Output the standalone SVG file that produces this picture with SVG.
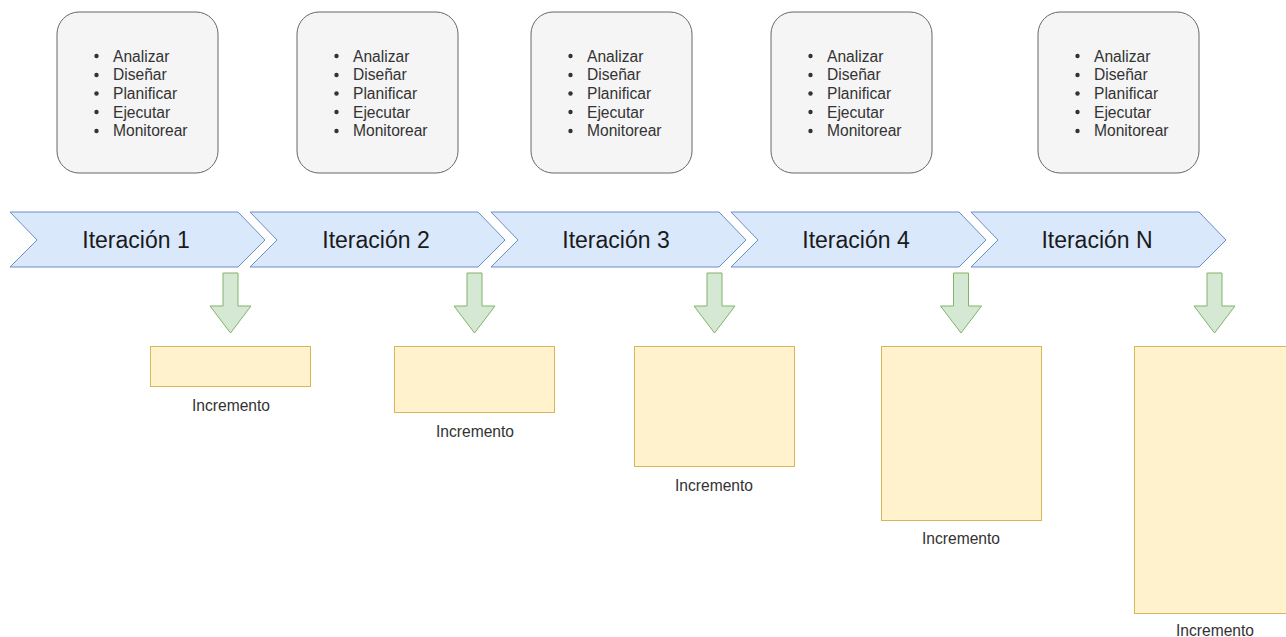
<svg xmlns="http://www.w3.org/2000/svg" width="1286" height="637" viewBox="0 0 1286 637">
<style>
.box{fill:#f5f5f5;stroke:#666666;stroke-width:1}
.list{font-family:"Liberation Sans",Arial,sans-serif;font-size:15.6px;fill:#333333}
.chev{fill:#dae8fc;stroke:#6c8ebf;stroke-width:1}
.ct{font-family:"Liberation Sans",Arial,sans-serif;font-size:23px;fill:#1a1a1a;text-anchor:middle}
.arr{fill:#d5e8d4;stroke:#82b366;stroke-width:1}
.inc{fill:#fff2cc;stroke:#d6b656;stroke-width:1}
.lbl{font-family:"Liberation Sans",Arial,sans-serif;font-size:15.6px;fill:#333333;text-anchor:middle}
</style>
<defs>
<g id="tasks">
<rect class="box" x="0" y="0" width="161" height="161" rx="22" ry="22"/>
<g class="list">
<circle cx="39.5" cy="44" r="2.2" fill="#333333"/><text x="56" y="49.5">Analizar</text>
<circle cx="39.5" cy="63" r="2.2" fill="#333333"/><text x="56" y="68.2">Diseñar</text>
<circle cx="39.5" cy="81.5" r="2.2" fill="#333333"/><text x="56" y="86.9">Planificar</text>
<circle cx="39.5" cy="100" r="2.2" fill="#333333"/><text x="56" y="105.6">Ejecutar</text>
<circle cx="39.5" cy="119" r="2.2" fill="#333333"/><text x="56" y="124.3">Monitorear</text>
</g>
</g>
<path id="chevshape" class="chev" d="M0,0 H228 L255,28 L228,55 H0 L27,28 Z"/>
<path id="arrow" class="arr" d="M-7.5,0 H7.5 V33 H20.5 L0,60 L-20.5,33 H-7.5 Z"/>
</defs>
<g id="box1" transform="translate(57,12)"><use href="#tasks"/></g>
<g id="box2" transform="translate(297,12)"><use href="#tasks"/></g>
<g id="box3" transform="translate(531,12)"><use href="#tasks"/></g>
<g id="box4" transform="translate(771,12)"><use href="#tasks"/></g>
<g id="box5" transform="translate(1038,12)"><use href="#tasks"/></g>

<g id="it1"><use href="#chevshape" x="10" y="212"/><text class="ct" x="136" y="247.5">Iteración 1</text></g>
<g id="it2"><use href="#chevshape" x="250" y="212"/><text class="ct" x="376" y="247.5">Iteración 2</text></g>
<g id="it3"><use href="#chevshape" x="491" y="212"/><text class="ct" x="616" y="247.5">Iteración 3</text></g>
<g id="it4"><use href="#chevshape" x="731" y="212"/><text class="ct" x="856" y="247.5">Iteración 4</text></g>
<g id="itN"><use href="#chevshape" x="971" y="212"/><text class="ct" x="1097" y="247.5">Iteración N</text></g>

<g id="connectors">
<use href="#arrow" x="230.5" y="273"/>
<use href="#arrow" x="474.5" y="273"/>
<use href="#arrow" x="714.5" y="273"/>
<use href="#arrow" x="961" y="273"/>
<use href="#arrow" x="1214.5" y="273"/>
</g>

<g id="inc1"><rect class="inc" x="150.5" y="346.5" width="160" height="40"/><text class="lbl" x="231" y="410.5">Incremento</text></g>
<g id="inc2"><rect class="inc" x="394.5" y="346.5" width="160" height="66"/><text class="lbl" x="475" y="437">Incremento</text></g>
<g id="inc3"><rect class="inc" x="634.5" y="346.5" width="160" height="120"/><text class="lbl" x="714" y="491">Incremento</text></g>
<g id="inc4"><rect class="inc" x="881.5" y="346.5" width="160" height="174"/><text class="lbl" x="961" y="544">Incremento</text></g>
<g id="incN"><rect class="inc" x="1134.5" y="346.5" width="160" height="267"/><text class="lbl" x="1215" y="636">Incremento</text></g>
</svg>
